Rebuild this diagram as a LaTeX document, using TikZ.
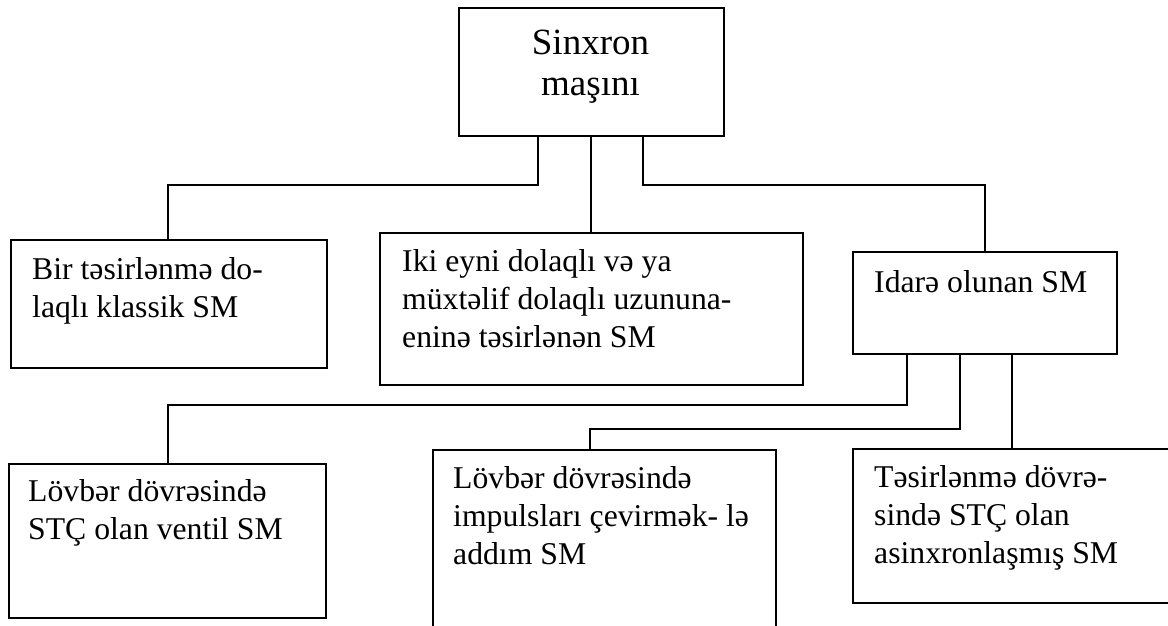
\documentclass[tikz,border=0pt]{standalone}
\usepackage{fontspec}
\setmainfont{Liberation Serif}
\begin{document}
\begin{tikzpicture}[x=1pt,y=-1pt,
  box/.style={draw=black, line width=1.8pt, rectangle, inner sep=0pt, anchor=north west},
  txt/.style={inner sep=0pt, anchor=base west, align=left, font=\fontsize{31.7}{38}\selectfont},
  ttl/.style={inner sep=0pt, anchor=base, align=center, font=\fontsize{37}{41}\selectfont},
  link/.style={draw=black, line width=1.8pt}]
\useasboundingbox (0,0) rectangle (1168,625);
\clip (0,0) rectangle (1168,625);
% boxes
\node[box, minimum width=265pt, minimum height=128pt] (top) at (458,7) {};
\node[box, minimum width=316pt, minimum height=128pt] (b1) at (10,239) {};
\node[box, minimum width=423pt, minimum height=152pt] (b2) at (379,232) {};
\node[box, minimum width=264pt, minimum height=102pt] (b3) at (852,251) {};
\node[box, minimum width=317pt, minimum height=154pt] (b4) at (8,463) {};
\node[box, minimum width=343pt, minimum height=220pt] (b5) at (432,449) {};
\node[box, minimum width=340pt, minimum height=154pt] (b6) at (852,448) {};
% texts (anchored at the baseline of their last line)
\node[ttl] (t0) at (590.5,95) {Sinxron\\maşını};
\node[txt] (t1) at (32,317) {Bir təsirlənmə do-\\laqlı klassik SM};
\node[txt] (t2) at (402,347) {Iki eyni dolaqlı və ya\\müxtəlif dolaqlı uzununa-\\eninə təsirlənən SM};
\node[txt] (t3) at (874,292) {Idarə olunan SM};
\node[txt] (t4) at (28,539) {Lövbər dövrəsində\\STÇ olan ventil SM};
\node[txt] (t5) at (453,564) {Lövbər dövrəsində\\impulsları çevirmək- lə\\addım SM};
\node[txt] (t6) at (874,563) {Təsirlənmə dövrə-\\sində STÇ olan\\asinxronlaşmış SM};
% helper coordinates
\coordinate (xa) at (538,185);
\coordinate (xb) at (643,185);
\coordinate (xc) at (907,405);
\coordinate (xd) at (960,429);
\coordinate (xe) at (1012,0);
\coordinate (xf) at (590,0);
\coordinate (xg) at (168,0);
\coordinate (xh) at (591,0);
% connectors
\draw[link] (top.south -| xa) -- (xa) -| (b1.north -| xg);
\draw[link] (top.south -| xh) -- (b2.north -| xh);
\draw[link] (top.south -| xb) -- (xb) -| (b3.north);
\draw[link] (b3.south -| xc) -- (xc) -| (b4.north -| xg);
\draw[link] (b3.south -| xd) -- (xd) -| (b5.north -| xf);
\draw[link] (b3.south -| xe) -- (b6.north -| xe);
\end{tikzpicture}
\end{document}
